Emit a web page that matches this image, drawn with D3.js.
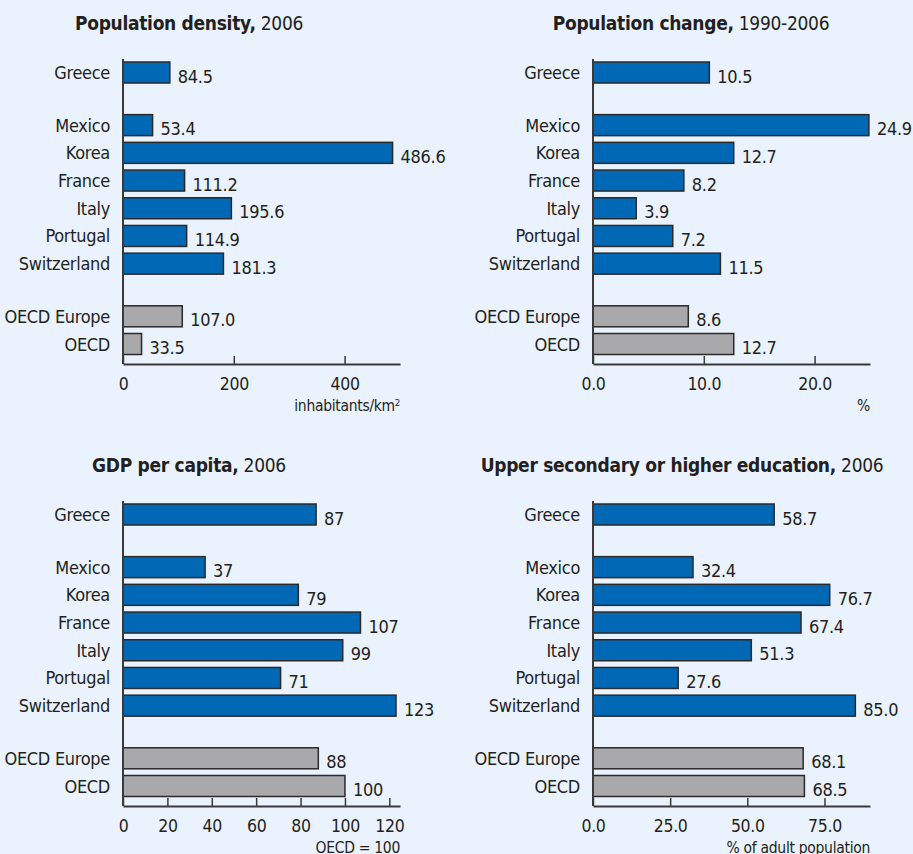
<!DOCTYPE html>
<html>
<head>
<meta charset="utf-8">
<script src="https://cdn.jsdelivr.net/npm/d3@7"></script>
<style>
    html, body { margin: 0; padding: 0; background: #eaf2fd; }
    svg { display: block; font-family: 'DejaVu Sans Condensed', 'DejaVu Sans', sans-serif; font-stretch: condensed; }
    text { fill: #231f20; letter-spacing: -0.3px; }
    .domain { stroke: #3a3a3a; stroke-width: 2; }
    .tick line { stroke: #3a3a3a; stroke-width: 1.5; }
    .bar { stroke: #2a2a2a; stroke-width: 1.5; }
</style>
</head>
<body>
<svg id="chart" width="913" height="854"></svg>
<script>
var countries = ['Greece', 'Mexico', 'Korea', 'France', 'Italy', 'Portugal', 'Switzerland', 'OECD Europe', 'OECD'];
var focusCountry = 'Greece';
var aggregates = ['OECD Europe', 'OECD'];

var densityValues = [84.5, 53.4, 486.6, 111.2, 195.6, 114.9, 181.3, 107.0, 33.5];
var changeValues = [10.5, 24.9, 12.7, 8.2, 3.9, 7.2, 11.5, 8.6, 12.7];
var gdpValues = [87, 37, 79, 107, 99, 71, 123, 88, 100];
var educationValues = [58.7, 32.4, 76.7, 67.4, 51.3, 27.6, 85.0, 68.1, 68.5];

var densityTicks = [0, 200, 400];
var changeTicks = [0, 10, 20];
var gdpTicks = [0, 20, 40, 60, 80, 100, 120];
var educationTicks = [0, 25, 50, 75];

var svg = d3.select('#chart');

var groupOf = function(name){
    if(name === focusCountry){ return 0; }
    if(aggregates.indexOf(name) !== -1){ return 2; }
    return 1;
};

var drawPanel = function(_config){
    var config = {
        left: 0,
        top: 0,
        axisX: 123,
        axisEnd: 400,
        maxValue: 500,
        values: null,
        ticks: null,
        tickFormat: null,
        valueFormat: null,
        titleBold: '',
        titleRest: '',
        titleX: 0,
        unit: ''
    };
    for(var k in _config){ config[k] = _config[k]; }

    var panel = svg.append('g')
        .attr('transform', 'translate(' + config.left + ',' + config.top + ')');

    var data = countries.map(function(c, i){
        return {name: c, value: config.values[i], slot: i + groupOf(c) * 0.9};
    });

    var scaleX = d3.scaleLinear()
        .domain([0, config.maxValue])
        .range([config.axisX, config.axisEnd]);
    var scaleY = d3.scaleLinear()
        .domain([0, 9.8])
        .range([72.5, 344]);
    var barHeight = 21;
    var axisY = 364;

    // title
    var title = panel.append('text')
        .attr('x', config.titleX)
        .attr('y', 30)
        .attr('text-anchor', 'middle')
        .style('font-size', '19px');
    title.append('tspan').style('font-weight', 'bold').text(config.titleBold);
    title.append('tspan').text(config.titleRest);

    // bars
    panel.selectAll('rect.bar')
        .data(data)
        .enter().append('rect')
        .attr('class', 'bar')
        .attr('x', scaleX(0))
        .attr('y', function(d){ return scaleY(d.slot) - barHeight / 2; })
        .attr('width', function(d){ return scaleX(d.value) - scaleX(0); })
        .attr('height', barHeight)
        .style('fill', function(d){ return groupOf(d.name) === 2 ? '#a9a9ac' : '#0068b4'; });

    // value labels
    panel.selectAll('text.value-label')
        .data(data)
        .enter().append('text')
        .attr('class', 'value-label')
        .attr('x', function(d){ return scaleX(d.value) + 8; })
        .attr('y', function(d){ return scaleY(d.slot) + barHeight / 2 - 0.5; })
        .style('font-size', '18px')
        .text(function(d){ return config.valueFormat(d.value); });

    // category labels
    panel.selectAll('text.category-label')
        .data(data)
        .enter().append('text')
        .attr('class', 'category-label')
        .attr('x', config.axisX - 13)
        .attr('y', function(d){ return scaleY(d.slot) + 6.5; })
        .attr('text-anchor', 'end')
        .style('font-size', '18px')
        .text(function(d){ return d.name; });

    // x axis, ticks point up into the plot
    var axis = d3.axisBottom(scaleX)
        .tickValues(config.ticks)
        .tickFormat(config.tickFormat)
        .tickSizeInner(-8)
        .tickSizeOuter(0)
        .tickPadding(14);
    var axisG = panel.append('g')
        .attr('transform', 'translate(0,' + axisY + ')')
        .call(axis);
    axisG.attr('font-family', null).attr('font-size', null);
    axisG.selectAll('text')
        .attr('fill', null)
        .style('font-size', '17.5px');

    // vertical axis line
    panel.append('path')
        .attr('class', 'domain')
        .attr('d', 'M' + [[config.axisX, 59], [config.axisX, axisY]].join('L'));

    // unit
    var unit = panel.append('text')
        .attr('x', config.axisEnd)
        .attr('y', axisY + 47)
        .attr('text-anchor', 'end')
        .style('font-size', '15.5px');
    if(config.unit === 'inhabitants/km2'){
        unit.append('tspan').text('inhabitants/km');
        unit.append('tspan').attr('dy', -5).style('font-size', '9.5px').text('2');
    } else {
        unit.text(config.unit);
    }
};

drawPanel({
    left: 0, top: 0, axisX: 123, axisEnd: 400, maxValue: 500,
    values: densityValues, ticks: densityTicks,
    tickFormat: d3.format('d'), valueFormat: d3.format('.1f'),
    titleBold: 'Population density,', titleRest: ' 2006', titleX: 189,
    unit: 'inhabitants/km2'
});
drawPanel({
    left: 0, top: 0, axisX: 593, axisEnd: 870, maxValue: 25,
    values: changeValues, ticks: changeTicks,
    tickFormat: d3.format('.1f'), valueFormat: d3.format('.1f'),
    titleBold: 'Population change,', titleRest: ' 1990-2006', titleX: 691,
    unit: '%'
});
drawPanel({
    left: 0, top: 442, axisX: 123, axisEnd: 400, maxValue: 124.8,
    values: gdpValues, ticks: gdpTicks,
    tickFormat: d3.format('d'), valueFormat: d3.format('d'),
    titleBold: 'GDP per capita,', titleRest: ' 2006', titleX: 189,
    unit: 'OECD = 100'
});
drawPanel({
    left: 0, top: 442, axisX: 593, axisEnd: 870, maxValue: 89.75,
    values: educationValues, ticks: educationTicks,
    tickFormat: d3.format('.1f'), valueFormat: d3.format('.1f'),
    titleBold: 'Upper secondary or higher education,', titleRest: ' 2006', titleX: 682,
    unit: '% of adult population'
});
</script>
</body>
</html>
